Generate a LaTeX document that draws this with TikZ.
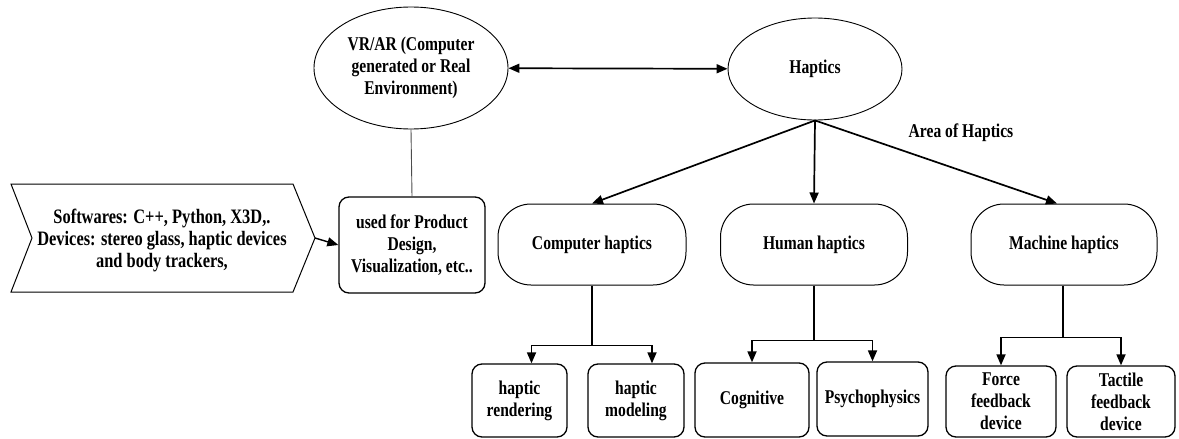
\documentclass[tikz,border=0pt]{standalone}
\usepackage{fontspec}
\setmainfont[FakeStretch=0.8]{Liberation Serif}
\usetikzlibrary{arrows.meta,shapes.geometric}

\tikzset{
  lbl/.style={font=\bfseries\fontsize{19.5}{22}\selectfont, align=center, text=black},
  oval/.style={lbl, ellipse, draw, line width=0.9pt, inner sep=0pt},
  stadium/.style={lbl, draw, line width=1pt, rounded corners=33pt,
                  minimum height=81pt, inner sep=2pt},
  leaf/.style={lbl, draw, line width=1.3pt, rounded corners=10pt, inner sep=2pt},
  arr/.style={-{Triangle[length=11pt,width=9pt]}, line width=1.7pt},
  dblarr/.style={{Triangle[length=11pt,width=9pt]}-{Triangle[length=11pt,width=9pt]}, line width=1.7pt},
  stem/.style={line width=1.8pt}
}

\begin{document}
\begin{tikzpicture}[x=1pt,y=-1pt]
\useasboundingbox (0,0) rectangle (1179,439);

% top row: the two ellipses
\node[oval, minimum width=194pt, minimum height=122pt] (vr) at (411,68)
  {VR/AR (Computer\\generated or Real\\Environment)};
\node[oval, minimum width=174pt, minimum height=102pt] (hap) at (815,69) {Haptics};
\draw[dblarr] (vr) -- (hap);

% application box and the chevron feeding it
\node[leaf, minimum width=146pt, minimum height=96pt] (use) at (412,245)
  {used for Product\\Design,\\Visualization, etc..};
\draw[line width=0.9pt, black!70] (vr.south) -- (use.north);

\draw[line width=1pt] (11,184) -- (293,184) -- (315,238) -- (293,292) -- (11,292) -- (32,238) -- cycle;
\coordinate (tip) at (315,238);
\node[lbl, font=\bfseries\fontsize{20.5}{22}\selectfont] (tools) at (162,240)
  {Softwares: C++, Python, X3D,.\\Devices: stereo glass, haptic devices\\and body trackers,};
\draw[arr, line width=1.4pt] (tip) -- (use.west);

% areas of haptics
\node[stadium, minimum width=188pt] (comp) at (592,244.5) {Computer haptics};
\node[stadium, minimum width=187pt] (human) at (814,244.5) {Human haptics};
\node[stadium, minimum width=186pt] (mach) at (1064,244.5) {Machine haptics};
\node[lbl] (area) at (961,133) {Area of Haptics};

\draw[arr] (hap.south) -- (comp.north);
\draw[arr] (hap.south) -- (human.north);
\draw[arr] (hap.south) -- ([xshift=-7pt]mach.north);

% leaves
\node[leaf, minimum width=95pt, minimum height=73pt] (rend) at (519.5,400.5) {haptic\\rendering};
\node[leaf, minimum width=96pt, minimum height=73pt] (model) at (636,400.5) {haptic\\modeling};
\node[leaf, minimum width=114pt, minimum height=74pt] (cog) at (752,400) {Cognitive};
\node[leaf, minimum width=111pt, minimum height=74pt] (psy) at (872.5,399) {Psychophysics};
\node[leaf, minimum width=110pt, minimum height=71pt] (force) at (1001,401.5) {Force\\feedback\\device};
\node[leaf, minimum width=108pt, minimum height=71pt] (tact) at (1121,401.5) {Tactile\\feedback\\device};

% branching connectors
\draw[stem] (comp.south) -- ++(0,60) coordinate (cj);
\draw[arr] (cj) -| ([xshift=12pt]rend.north);
\draw[arr] (cj) -| ([xshift=16pt]model.north);

\draw[stem] (human.south) -- ++(0,55) coordinate (hj);
\draw[arr] (hj) -| (cog.north);
\draw[arr] (hj) -| (psy.north);

\draw[stem] ([xshift=-1pt]mach.south) -- ++(0,52) coordinate (mj);
\draw[arr] (mj) -| (force.north);
\draw[arr] (mj) -| (tact.north);
\end{tikzpicture}
\end{document}
